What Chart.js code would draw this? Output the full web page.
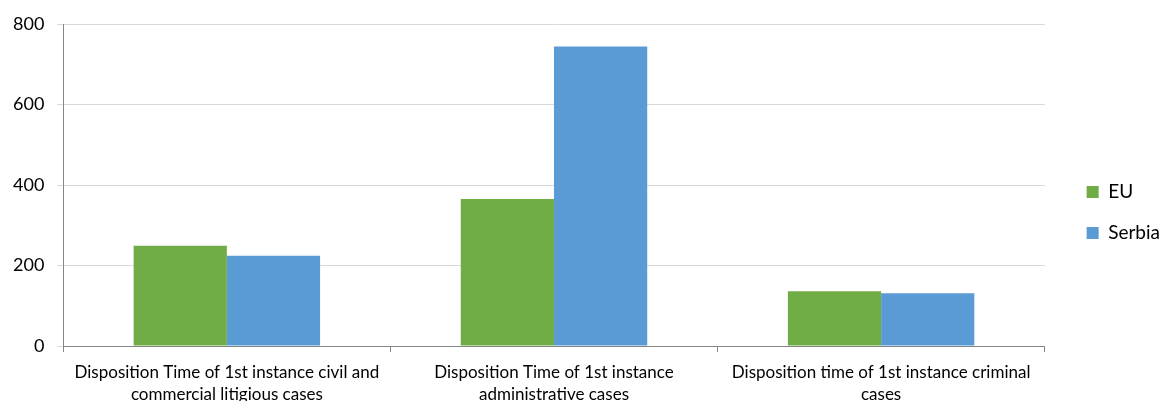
<!DOCTYPE html>
<html>
<head>
<meta charset="utf-8">
<title>Disposition time</title>
<script src="https://cdn.jsdelivr.net/npm/chart.js@4"></script>
<style>
  html, body { margin: 0; padding: 0; background: #fff; }
  #wrap { width: 1160px; height: 401px; position: relative; }
</style>
</head>
<body>
<div id="wrap"><canvas id="chartDisp"></canvas></div>
<script>
// categorias (linhas quebradas como no rótulo original)
const categorias = [
  ['Disposition Time of 1st instance civil and', 'commercial litigious cases'],
  ['Disposition Time of 1st instance', 'administrative cases'],
  ['Disposition time of 1st instance criminal', 'cases'],
];
const valoresEU     = [249, 365, 136];
const valoresSerbia = [224, 744, 131];
const ticksY        = [0, 200, 400, 600, 800];

const fonte = 'Lato, "DejaVu Sans", sans-serif';
const gridColor = '#d9d9d9';
const axisColor = '#868686';

new Chart(document.getElementById('chartDisp'), {
  type: 'bar',
  data: {
    labels: categorias,
    datasets: [
      { label: 'EU',     data: valoresEU,     backgroundColor: '#70ad47', borderWidth: 0 },
      { label: 'Serbia', data: valoresSerbia, backgroundColor: '#5b9bd5', borderWidth: 0 },
    ],
  },
  options: {
    responsive: true,
    maintainAspectRatio: false,
    animation: false,
    layout: { padding: { top: 24, left: 0, right: -10, bottom: 0 } },
    datasets: { bar: { barPercentage: 1, categoryPercentage: 0.57 } },
    plugins: {
      tooltip: { enabled: false },
      legend: {
        position: 'right',
        labels: {
          color: '#000',
          boxWidth: 12, boxHeight: 12,
          padding: 22,
          font: { size: 19, family: fonte },
        },
      },
    },
    scales: {
      x: {
        grid: { drawOnChartArea: false, drawTicks: true, tickLength: 6, color: axisColor },
        border: { color: axisColor },
        ticks: { color: '#000', padding: 9, maxRotation: 0, autoSkip: false,
                 font: { size: 17, family: fonte, lineHeight: 1.3 } },
        afterFit(s) { s.height = 55; },
      },
      y: {
        min: 0, max: 800,
        afterBuildTicks(s) { s.ticks = ticksY.map(v => ({ value: v })); },
        grid: { color: gridColor, tickLength: 6 },
        border: { color: axisColor },
        ticks: { color: '#000', padding: 13, font: { size: 18, family: fonte } },
      },
      // espaço vazio entre a área do gráfico e a legenda
      gap: {
        type: 'linear', position: 'right', display: true,
        grid: { display: false }, border: { display: false }, ticks: { display: false },
        afterFit(s) { s.width = 20; },
      },
    },
  },
});
</script>
</body>
</html>
